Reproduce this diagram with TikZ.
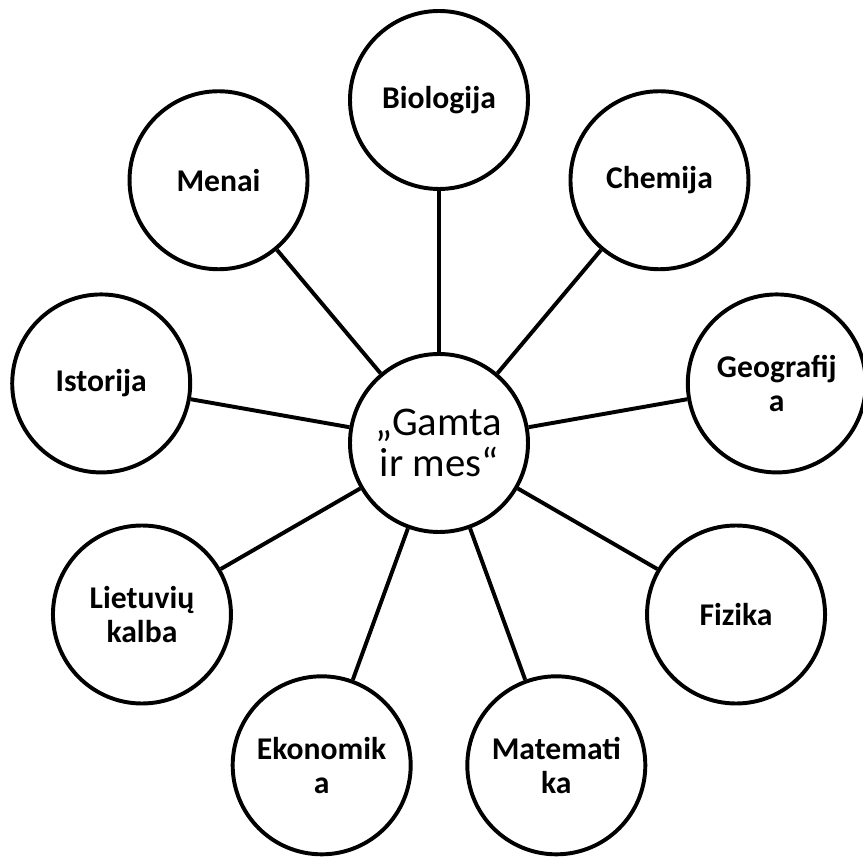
\documentclass[tikz,border=0pt]{standalone}
\usepackage{fontspec}
\setmainfont{Carlito}
\begin{document}
\begin{tikzpicture}[
    dalykas/.style={circle, draw, line width=2.8pt, minimum size=4.45cm, inner sep=0pt,
      align=center, font=\bfseries\fontsize{22.5}{24}\selectfont},
    tema/.style={circle, draw, line width=2.8pt, minimum size=4.45cm, inner sep=0pt,
      align=center, font=\fontsize{29}{29.5}\selectfont},
    jungtis/.style={line width=2.8pt}]
        \useasboundingbox (-10.975,-10.325) rectangle (10.6,11.075);
        % center
        \node[tema] (gamta) at (0,0) {„Gamta\\ir mes“};
        % subjects
        \node[dalykas] (biologija) at (90:8.575) {Biologija};
        \node[dalykas] (chemija) at (50:8.575) {Chemija};
        \node[dalykas] (geografija) at (10:8.575) {Geografij\\a};
        \node[dalykas] (fizika) at (-30:8.575) {Fizika};
        \node[dalykas] (matematika) at (-70:8.575) {Matemati\\ka};
        \node[dalykas] (ekonomika) at (-110:8.575) {Ekonomik\\a};
        \node[dalykas] (lietuviu) at (-150:8.575) {Lietuvių\\kalba};
        \node[dalykas] (istorija) at (170:8.575) {Istorija};
        \node[dalykas] (menai) at (130:8.575) {Menai};
        % links
        \draw[jungtis] (gamta) -- (biologija);
        \draw[jungtis] (gamta) -- (chemija);
        \draw[jungtis] (gamta) -- (geografija);
        \draw[jungtis] (gamta) -- (fizika);
        \draw[jungtis] (gamta) -- (matematika);
        \draw[jungtis] (gamta) -- (ekonomika);
        \draw[jungtis] (gamta) -- (lietuviu);
        \draw[jungtis] (gamta) -- (istorija);
        \draw[jungtis] (gamta) -- (menai);
      \end{tikzpicture}
\end{document}
